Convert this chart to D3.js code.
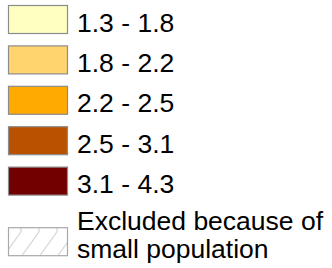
<!DOCTYPE html>
<html>
<head>
<meta charset="utf-8">
<script src="https://cdn.jsdelivr.net/npm/d3@7"></script>
<style>
  body { margin: 0; background: #fff; }
  text { font-family: Arial, "Liberation Sans", sans-serif; fill: #000; }
</style>
</head>
<body>
<div id="legend"></div>
<script>
// legend classes
var classLabels = ["1.3 - 1.8", "1.8 - 2.2", "2.2 - 2.5", "2.5 - 3.1", "3.1 - 4.3"];
var classColors = ["#ffffc2", "#ffd46e", "#ffaa00", "#b85200", "#720000"];
var excludedLines = ["Excluded because of", "small population"];

var width = 332, height = 268;
var boxW = 59, boxH = 28;

// rows: 5 classes, then the excluded swatch after a half-row gap
var y = d3.scaleLinear()
    .domain([0, 5])
    .range([5, 207]);

var svg = d3.select("#legend").append("svg")
    .attr("width", width)
    .attr("height", height);

var defs = svg.append("defs");
var pat = defs.append("pattern")
    .attr("id", "hatch")
    .attr("patternUnits", "userSpaceOnUse")
    .attr("width", 18)
    .attr("height", 28)
    .attr("x", 12)
    .attr("y", y(5.5));
[-18, 0, 18].forEach(function(dx) {
  pat.append("line")
      .attr("x1", dx).attr("y1", 28)
      .attr("x2", dx + 20).attr("y2", 0)
      .attr("stroke", "#c4c4c4")
      .attr("stroke-width", 1);
});

var rows = svg.selectAll(".row")
    .data(classLabels)
  .enter().append("g")
    .attr("class", "row")
    .attr("transform", function(d, i) { return "translate(8," + y(i) + ")"; });

rows.append("rect")
    .attr("x", 0.5)
    .attr("y", 0.5)
    .attr("width", boxW)
    .attr("height", boxH)
    .attr("fill", function(d, i) { return classColors[i]; })
    .attr("stroke", "#8c8c8c")
    .attr("stroke-width", 1.2);

rows.append("text")
    .attr("x", 69)
    .attr("y", 26.5)
    .attr("font-size", "26.5px")
    .text(function(d) { return d; });

// excluded swatch
var ex = svg.append("g")
    .attr("transform", "translate(8," + y(5.5) + ")");

ex.append("rect")
    .attr("x", 0.5)
    .attr("y", 0.5)
    .attr("width", boxW)
    .attr("height", boxH)
    .attr("fill", "url(#hatch)")
    .attr("stroke", "#a8a8a8")
    .attr("stroke-width", 1.2);

ex.selectAll("text.ex")
    .data(excludedLines)
  .enter().append("text")
    .attr("class", "ex")
    .attr("x", 69)
    .attr("y", function(d, i) { return 3 + i * 28; })
    .attr("font-size", "26.5px")
    .text(function(d) { return d; });
</script>
</body>
</html>
